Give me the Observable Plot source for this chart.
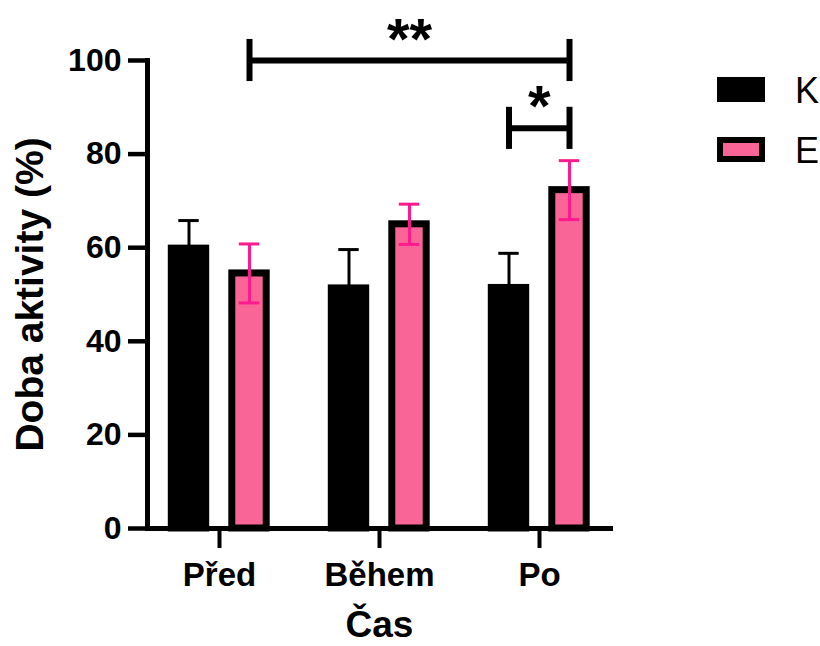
<!DOCTYPE html>
<html><head><meta charset="utf-8">
<script src="https://cdn.jsdelivr.net/npm/d3@7"></script>
<script src="https://cdn.jsdelivr.net/npm/@observablehq/plot@0.6"></script>
<style>
body{margin:0;background:#fff;}
#wrap{position:relative;width:820px;height:646px;font-family:"Liberation Sans",Arial,sans-serif;overflow:hidden;}
#chart{position:absolute;left:0;top:0;}
.lg-box{position:absolute;box-sizing:border-box;border:6px solid #000;width:48px;height:25px;}
.lg-text{position:absolute;font-size:36px;line-height:36px;color:#000;}
</style></head><body>
<div id="wrap"><div id="chart"></div></div>
<script>
// ---- data ----
const groups = ["Před", "Během", "Po"];
const series = ["K", "E"];
const meanK = [59.8, 51.3, 51.4];
const sdK   = [6.0, 8.3, 7.4];
const meanE = [54.5, 65.0, 72.3];
const sdE   = [6.3, 4.3, 6.3];
const yTicks = [0, 20, 40, 60, 80, 100];
const yTitle = "Doba aktivity (%)";
const xTitle = "Čas";
const bracketFrom = [["Před", "E"], ["Po", "K"]];
const bracketTo   = [["Po", "E"], ["Po", "E"]];
const bracketY    = [100, 85.5];
const bracketText = ["**", "*"];

// ---- layout / style ----
const W = 820, H = 646, mL = 147, mR = 209, mT = 60, mB = 118;
const PI = 0.24, PO = 0.07;
const step = (W - mL - mR) / (groups.length - PI + 2 * PO);
const half = step * (1 - PI) / 2;
const OFF = {K: -30.5, E: 30};
const FILL = {K: "#000000", E: "#fa6597"};
const ERR = {K: "#000000", E: "#ff1a8e"};
const BAR_HW = 17, CAP_HW = 10, END_H = 4.5;
const ins = (s, hw) => ({insetLeft: half + OFF[s] - hw, insetRight: half - OFF[s] - hw});

const rows = groups.flatMap((g, i) => [
  {g, s: "K", m: meanK[i], sd: sdK[i]},
  {g, s: "E", m: meanE[i], sd: sdE[i]}
]);

const marks = [];
for (const s of series) {
  const d = rows.filter(r => r.s === s);
  marks.push(Plot.barY(d, {x: "g", y: "m", fill: FILL[s], stroke: "#000", strokeWidth: 7, ...ins(s, BAR_HW)}));
}
for (const s of series) {
  const d = rows.filter(r => r.s === s);
  marks.push(Plot.ruleX(d, {x: "g", y1: r => s === "K" ? r.m : r.m - r.sd, y2: r => r.m + r.sd, dx: OFF[s], stroke: ERR[s], strokeWidth: 3}));
  marks.push(Plot.tickY(d, {x: "g", y: r => r.m + r.sd, stroke: ERR[s], strokeWidth: 3, ...ins(s, CAP_HW)}));
  if (s === "E") marks.push(Plot.tickY(d, {x: "g", y: r => r.m - r.sd, stroke: ERR[s], strokeWidth: 3, ...ins(s, CAP_HW)}));
}
// brackets
bracketY.forEach((y, i) => {
  const [g1, s1] = bracketFrom[i], [g2, s2] = bracketTo[i];
  marks.push(Plot.ruleY([y], {x1: () => g1, x2: () => g2, y: d => d, stroke: "#000", strokeWidth: 6,
    insetLeft: half + OFF[s1], insetRight: half - OFF[s2]}));
  marks.push(Plot.ruleX([y], {x: () => g1, y1: d => d - END_H, y2: d => d + END_H, dx: OFF[s1], stroke: "#000", strokeWidth: 6}));
  marks.push(Plot.ruleX([y], {x: () => g2, y1: d => d - END_H, y2: d => d + END_H, dx: OFF[s2], stroke: "#000", strokeWidth: 6}));
  const mid = groups[(groups.indexOf(g1) + groups.indexOf(g2)) / 2];
  marks.push(Plot.text([y], {x: () => mid, y: d => d, text: () => bracketText[i], dx: (OFF[s1] + OFF[s2]) / 2, dy: -2,
    lineAnchor: "bottom", fontSize: 58, fontWeight: "bold"}));
});
// axes
marks.push(
  Plot.axisY({ticks: yTicks, tickSize: 19, tickPadding: 7, fontSize: 32, fontWeight: "bold", strokeWidth: 4.5, label: null}),
  Plot.axisX({tickSize: 20, tickPadding: 14, fontSize: 33, fontWeight: "bold", strokeWidth: 4, label: null}),
  Plot.ruleY([0], {strokeWidth: 5, insetRight: -2}),
  Plot.frame({anchor: "left", strokeWidth: 5}),
  Plot.text([yTitle], {text: d => d, frameAnchor: "left", rotate: -90, dx: -116.5, textAnchor: "middle", fontSize: 39, fontWeight: "bold"}),
  Plot.text([xTitle], {text: d => d, frameAnchor: "bottom", dy: 108, lineAnchor: "bottom", fontSize: 37, fontWeight: "bold"})
);

const chart = Plot.plot({
  width: W, height: H,
  marginLeft: mL, marginRight: mR, marginTop: mT, marginBottom: mB,
  style: {fontFamily: "Liberation Sans, Arial, sans-serif", color: "#000", background: "#fff", overflow: "visible"},
  x: {type: "band", domain: groups, paddingInner: PI, paddingOuter: PO},
  y: {domain: [0, 100]},
  marks
});
document.getElementById("chart").appendChild(chart);

// legend
const wrap = document.getElementById("wrap");
series.forEach((s, i) => {
  const box = document.createElement("div");
  box.className = "lg-box";
  box.style.left = "717px";
  box.style.top = (77 + i * 60) + "px";
  box.style.background = FILL[s];
  wrap.appendChild(box);
  const t = document.createElement("div");
  t.className = "lg-text";
  t.style.left = "795px";
  t.style.top = (72.5 + i * 60) + "px";
  t.textContent = s;
  wrap.appendChild(t);
});
</script>
</body></html>
